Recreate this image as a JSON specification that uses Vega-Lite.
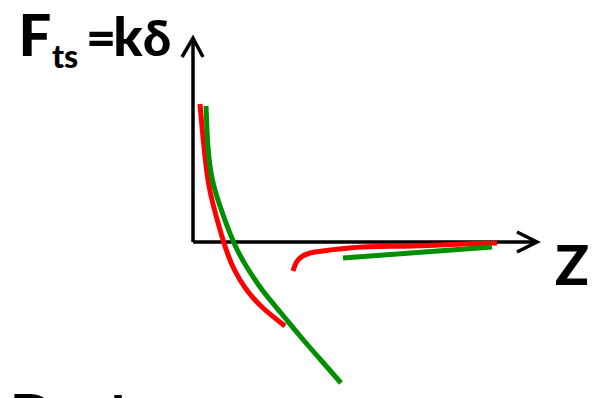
{
  "$schema": "https://vega.github.io/schema/vega-lite/v6.json",
  "width": 605,
  "height": 398,
  "autosize": {"type": "none"},
  "padding": 0,
  "background": "white",
  "config": {"view": {"stroke": null}},
  "datasets": {
    "axes": [
      {"part": "yaxis", "i": 0, "x": 0, "y": 0},
      {"part": "yaxis", "i": 1, "x": 0, "y": 202},
      {"part": "yhead", "i": 0, "x": -11, "y": 185},
      {"part": "yhead", "i": 1, "x": 0, "y": 204},
      {"part": "yhead", "i": 2, "x": 10, "y": 185},
      {"part": "xaxis", "i": 0, "x": 0, "y": 0},
      {"part": "xaxis", "i": 1, "x": 342, "y": 0},
      {"part": "xhead", "i": 0, "x": 324, "y": 10},
      {"part": "xhead", "i": 1, "x": 344, "y": 0},
      {"part": "xhead", "i": 2, "x": 324, "y": -10}
    ],
    "curves": [
      {"curve": "red-a", "series": "red", "i": 0, "x": 7, "y": 138},
      {"curve": "red-a", "series": "red", "i": 1, "x": 11, "y": 95},
      {"curve": "red-a", "series": "red", "i": 2, "x": 15, "y": 62},
      {"curve": "red-a", "series": "red", "i": 3, "x": 20, "y": 38},
      {"curve": "red-a", "series": "red", "i": 4, "x": 31, "y": -1},
      {"curve": "red-a", "series": "red", "i": 5, "x": 41, "y": -27},
      {"curve": "red-a", "series": "red", "i": 6, "x": 53, "y": -47},
      {"curve": "red-a", "series": "red", "i": 7, "x": 70, "y": -66},
      {"curve": "red-a", "series": "red", "i": 8, "x": 92, "y": -84},
      {"curve": "green-a", "series": "green", "i": 0, "x": 13, "y": 136},
      {"curve": "green-a", "series": "green", "i": 1, "x": 15, "y": 95},
      {"curve": "green-a", "series": "green", "i": 2, "x": 19, "y": 64},
      {"curve": "green-a", "series": "green", "i": 3, "x": 27, "y": 36},
      {"curve": "green-a", "series": "green", "i": 4, "x": 41, "y": -1},
      {"curve": "green-a", "series": "green", "i": 5, "x": 55, "y": -27},
      {"curve": "green-a", "series": "green", "i": 6, "x": 70, "y": -49},
      {"curve": "green-a", "series": "green", "i": 7, "x": 88, "y": -71},
      {"curve": "green-a", "series": "green", "i": 8, "x": 107, "y": -94},
      {"curve": "green-a", "series": "green", "i": 9, "x": 127, "y": -117},
      {"curve": "green-a", "series": "green", "i": 10, "x": 148, "y": -141},
      {"curve": "red-b", "series": "red", "i": 0, "x": 100, "y": -29},
      {"curve": "red-b", "series": "red", "i": 1, "x": 105, "y": -18},
      {"curve": "red-b", "series": "red", "i": 2, "x": 117, "y": -11},
      {"curve": "red-b", "series": "red", "i": 3, "x": 137, "y": -8},
      {"curve": "red-b", "series": "red", "i": 4, "x": 170, "y": -5},
      {"curve": "red-b", "series": "red", "i": 5, "x": 220, "y": -4},
      {"curve": "red-b", "series": "red", "i": 6, "x": 270, "y": -2},
      {"curve": "red-b", "series": "red", "i": 7, "x": 304, "y": -1},
      {"curve": "green-b", "series": "green", "i": 0, "x": 150, "y": -16},
      {"curve": "green-b", "series": "green", "i": 1, "x": 299, "y": -5}
    ],
    "labels": [
      {"text": "F", "x": -158, "y": 186, "size": 58},
      {"text": "ts", "x": -128, "y": 174, "size": 32},
      {"text": "=", "x": -92, "y": 186, "size": 52},
      {"text": "k", "x": -65, "y": 186, "size": 54},
      {"text": "δ", "x": -36, "y": 186, "size": 50},
      {"text": "Z", "x": 379, "y": -43, "size": 56},
      {"text": "D", "x": -161, "y": -194, "size": 58},
      {"text": "=", "x": -92, "y": -194, "size": 52},
      {"text": "k", "x": -67, "y": -193, "size": 54},
      {"text": "δ", "x": -36, "y": -192, "size": 50}
    ]
  },
  "layer": [
    {
      "data": {"name": "axes"},
      "mark": {"type": "line", "color": "black", "strokeWidth": 3.5, "strokeCap": "butt", "strokeJoin": "miter"},
      "encoding": {
        "x": {"field": "x", "type": "quantitative", "scale": {"domain": [-193, 412], "nice": false, "zero": false}, "axis": null},
        "y": {"field": "y", "type": "quantitative", "scale": {"domain": [-156, 242], "nice": false, "zero": false}, "axis": null},
        "detail": {"field": "part"},
        "order": {"field": "i"}
      }
    },
    {
      "data": {"name": "curves"},
      "mark": {"type": "line", "strokeWidth": 5, "interpolate": "natural", "strokeCap": "butt"},
      "encoding": {
        "x": {"field": "x", "type": "quantitative"},
        "y": {"field": "y", "type": "quantitative"},
        "detail": {"field": "curve"},
        "order": {"field": "i"},
        "color": {"field": "series", "type": "nominal", "scale": {"domain": ["red", "green"], "range": ["#ff0000", "#008f00"]}, "legend": null}
      }
    },
    {
      "data": {"name": "labels"},
      "mark": {"type": "text", "align": "center", "baseline": "alphabetic", "font": "Lato", "fontWeight": 900, "color": "black"},
      "encoding": {
        "x": {"field": "x", "type": "quantitative"},
        "y": {"field": "y", "type": "quantitative"},
        "text": {"field": "text"},
        "size": {"field": "size", "type": "quantitative", "scale": null}
      }
    }
  ]
}
